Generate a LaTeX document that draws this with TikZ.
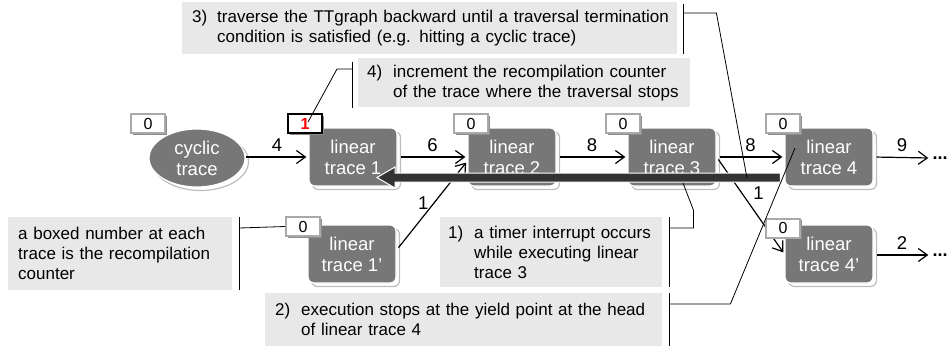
\documentclass[tikz,border=0pt]{standalone}
\usepackage{fontspec}
\setmainfont{Liberation Sans}
\usetikzlibrary{arrows.meta,shapes.geometric,shadows,calc}
\definecolor{nodegray}{HTML}{777777}
\definecolor{shadowline}{HTML}{BDBDBD}
\definecolor{calloutfill}{HTML}{E8E8E8}
\definecolor{counterline}{HTML}{A9A9A9}
\definecolor{counterdrop}{HTML}{8C8C8C}
\definecolor{barcolor}{HTML}{333333}
\begin{document}
\begin{tikzpicture}[x=1bp,y=-1bp,
  trace/.style={rectangle, rounded corners=6bp, fill=nodegray, draw=white,
    line width=1.2bp, minimum width=88bp, minimum height=58bp, inner sep=0pt,
    text=white, align=center, font=\fontsize{18.5bp}{21bp}\selectfont,
    drop shadow={shadow xshift=3.5bp, shadow yshift=-3.5bp, fill=white,
      draw=shadowline, opacity=1}},
  cyclic/.style={trace, ellipse, minimum width=96bp, minimum height=58bp},
  counter/.style={rectangle, fill=white, draw=counterline, line width=2bp,
    minimum width=34bp, minimum height=19bp, inner sep=0pt,
    font=\fontsize{16bp}{19bp}\selectfont,
    drop shadow={shadow xshift=1.5bp, shadow yshift=-1.5bp, fill=counterdrop,
      draw=none, opacity=1}},
  hotcounter/.style={counter, draw=black, text=red, font=\fontsize{16bp}{19bp}\selectfont\bfseries},
  callout/.style={rectangle, fill=calloutfill, anchor=north west, inner ysep=0pt,
    align=left, font=\fontsize{17bp}{20bp}\selectfont},
  edge/.style={line width=1.2bp, -{Straight Barb[length=9bp,width=13bp]},
    shorten >=2bp, shorten <=3bp},
  lbl/.style={font=\fontsize{18.5bp}{21bp}\selectfont, inner sep=1bp},
  more/.style={font=\fontsize{18bp}{21bp}\selectfont\bfseries, inner xsep=2bp, inner ysep=0pt},
  pointer/.style={line width=0.8bp}
]
\useasboundingbox (0,0) rectangle (949,349);

% callout boxes
\node[callout, text width=475bp, minimum height=52bp, inner xsep=10bp] (c3) at (182,2)
  {\mbox{\makebox[25bp][l]{3)}traverse the TTgraph backward until a traversal termination}\\
   \mbox{\hspace*{25bp}condition is satisfied (e.g. hitting a cyclic trace)}};
\node[callout, text width=314bp, minimum height=49bp, inner xsep=9bp] (c4) at (358,58)
  {\mbox{\makebox[26bp][l]{4)}increment the recompilation counter}\\
   \mbox{\hspace*{26bp}of the trace where the traversal stops}};
\node[callout, text width=204bp, minimum height=73bp, inner xsep=10bp] (cb) at (8,217)
  {a boxed number at each\\trace is the recompilation\\counter};
\node[callout, text width=206bp, minimum height=70bp, inner xsep=8bp] (c1) at (440,217)
  {\mbox{\makebox[26bp][l]{1)}a timer interrupt occurs}\\
   \mbox{\hspace*{26bp}while executing linear}\\
   \mbox{\hspace*{26bp}trace 3}};
\node[callout, text width=377bp, minimum height=53bp, inner xsep=10bp] (c2) at (265,293)
  {\mbox{\makebox[26bp][l]{2)}execution stops at the yield point at the head}\\
   \mbox{\hspace*{26bp}of linear trace 4}};

% traces
\node[cyclic] (cyc) at (197,158) {cyclic\\trace};
\node[trace] (t1) at (353,157) {linear\\trace 1};
\node[trace] (t2) at (512,157) {linear\\trace 2};
\node[trace] (t3) at (672,157) {linear\\trace 3};
\node[trace] (t4) at (829,157) {linear\\trace 4};
\node[trace] (t1p) at (352,254) {linear\\trace 1'};
\node[trace] (t4p) at (829,254) {linear\\trace 4'};

% continuation marks
\node[more] (d4) at (940,158) {...};
\node[more] (d4p) at (940,255) {...};

% transitions with their execution counts
\draw[edge, shorten <=0bp] (cyc.east |- t1.west) -- node[lbl, above=4bp] {4} (t1.west);
\draw[edge] (t1.east) -- node[lbl, above=4bp] {6} (t2.west);
\draw[edge] (t2.east) -- node[lbl, above=4bp] {8} (t3.west);
\draw[edge] (t3.east) -- node[lbl, above=4bp] {8} (t4.west);
\draw[edge] (t3.east) -- node[lbl, pos=0.37, right=10bp] {1} (t4p.west);
\draw[edge] ([yshift=4bp]t1p.east) -- node[lbl, pos=0.53, left=4bp] {1} ([yshift=-4bp]t2.west);
\draw[edge] (t4.east) -- node[lbl, above=4bp] {9} (d4.west);
\draw[edge] (t4p.east |- d4p) -- node[lbl, above=4bp] {2} (d4p.west);

% recompilation counters
\node[counter] (cc) at (148,123.5) {0};
\node[hotcounter] (c1c) at (305,123.5) {1};
\node[counter] (c2c) at (471,123.5) {0};
\node[counter] (c3c) at (623,123.5) {0};
\node[counter] (c4c) at (783,123.5) {0};
\node[counter] (c1pc) at (303,226.5) {0};
\node[counter] (c4pc) at (783,228) {0};

% backward traversal arrow
\coordinate (barR) at ([xshift=-4bp,yshift=-20.5bp]t4.west);
\coordinate (barL) at ([xshift=24bp,yshift=-20.5bp]t1.center);
\filldraw[fill=barcolor, draw=white, line width=1bp]
  ($(barR)+(0,-4.5)$) -- ($(barL)+(18,-4.5)$) -- ($(barL)+(18,-10.5)$) -- (barL)
  -- ($(barL)+(18,10.5)$) -- ($(barL)+(18,4.5)$) -- ($(barR)+(0,4.5)$) -- cycle;

% pointers from the callouts
\coordinate (tip3) at (747,178);
\coordinate (tip4) at (308,122);
\coordinate (tip1) at (683,183);
\coordinate (tip2) at (795,148);

\draw[pointer] ([xshift=6bp,yshift=-2bp]c3.north east) -- ([xshift=6bp]c3.south east);
\draw[pointer] ([xshift=6bp,yshift=-11bp]c3.north east) -- ++(33,0) -- (tip3);

\draw[pointer] ([xshift=-6bp,yshift=-4bp]c4.north west) -- ([xshift=-6bp,yshift=-1bp]c4.south west);
\draw[pointer] ([xshift=-6bp,yshift=-11bp]c4.north west) -- ++(-15,0) -- (tip4);

\draw[pointer] ([xshift=7bp]cb.north east) -- ([xshift=7bp]cb.south east);
\draw[pointer] ([xshift=7bp,yshift=-11bp]cb.north east) -- (c1pc.west);

\draw[pointer] ([xshift=7bp]c1.north east) -- ([xshift=7bp]c1.south east);
\draw[pointer] ([xshift=7bp,yshift=-11bp]c1.north east) -- ++(24,0) -- ++(0,-18) -- (tip1);

\draw[pointer] ([xshift=7bp]c2.north east) -- ([xshift=7bp]c2.south east);
\draw[pointer] ([xshift=7bp,yshift=-11bp]c2.north east) -- ++(61,0) -- (tip2);
\end{tikzpicture}
\end{document}
